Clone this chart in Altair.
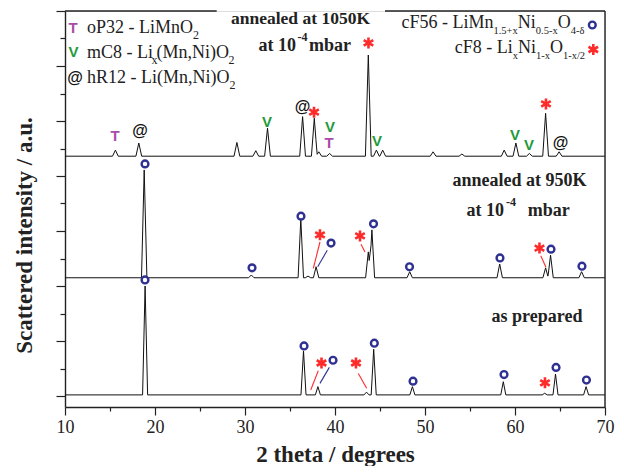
import altair as alt
import pandas as pd

# ---------------- data ----------------
# x: 2 theta (degrees); y: scattered intensity in arbitrary units (stacked traces)
BASE = {"prep": 0.02, "k950": 2.15, "k1050": 4.36}
HALF_W = {"prep": 0.28, "k950": 0.30, "k1050": 0.32}

prep_pos = [18.9, 36.5, 38.1, 43.5, 44.3, 48.6, 58.7, 63.3, 64.5, 67.9]
prep_top = [2.00, 0.82, 0.17, 0.07, 0.85, 0.17, 0.26, 0.05, 0.40, 0.17]

k950_pos = [18.8, 30.7, 36.2, 37.0, 37.9, 43.7, 44.1, 48.3, 58.3, 63.4, 63.95, 67.4]
k950_top = [4.11, 2.20, 3.22, 2.18, 2.35, 2.62, 3.02, 2.26, 2.40, 2.33, 2.56, 2.26]

k1050_pos = [15.6, 18.2, 29.1, 31.2, 32.5, 36.4, 37.7, 38.2, 39.4, 43.7, 44.6,
             45.3, 50.9, 54.1, 58.8, 60.1, 61.6, 63.4, 64.9]
k1050_top = [4.47, 4.60, 4.61, 4.46, 4.87, 5.08, 5.05, 4.44, 4.41, 6.20, 4.47,
             4.47, 4.44, 4.40, 4.47, 4.60, 4.41, 5.14, 4.44]

# phase markers (x, y) placed over peaks
circ_x = [18.89, 30.78, 36.22, 39.56, 44.28, 48.28, 58.33, 64.00, 67.44,
          18.89, 36.56, 39.78, 44.37, 48.67, 58.78, 64.56, 67.94, 68.59]
circ_y = [4.22, 2.33, 3.27, 2.78, 3.13, 2.35, 2.51, 2.67, 2.36,
          2.11, 0.91, 0.65, 0.96, 0.27, 0.39, 0.52, 0.29, 6.745]
star_x = [37.67, 43.72, 63.44, 38.33, 42.78, 62.72, 38.50, 42.33, 63.33, 68.70]
star_y = [5.16, 6.42, 5.31, 2.93, 2.91, 2.69, 0.60, 0.60, 0.24, 6.30]
glyph_txt = ["V", "V", "V", "V", "V", "V",
             "T", "T", "T",
             "@", "@", "@", "@"]
glyph_x = [32.44, 39.44, 44.67, 60.00, 61.56, 10.94,
           15.56, 39.33, 10.89,
           18.33, 36.39, 65.06, 11.11]
glyph_y = [4.98, 4.89, 4.64, 4.75, 4.56, 6.255,
           4.73, 4.60, 6.69,
           4.82, 5.25, 4.60, 5.78]
glyph_col = ["#1f9a3a"] * 6 + ["#a94ca9"] * 3 + ["#111111"] * 4
glyph_size = [15] * 9 + [16] * 4

# leader lines (x, y, x2, y2)
red_lines = [(37.59, 2.32, 38.33, 2.80), (42.89, 2.76, 43.33, 2.62), (62.86, 2.55, 63.44, 2.34),
             (37.30, 0.11, 38.14, 0.46), (42.59, 0.41, 43.52, 0.14)]
blue_lines = [(38.08, 2.35, 39.14, 2.65), (38.33, 0.23, 39.37, 0.52)]

# ---------------- layout helpers (page pixels -> data units) ----------------
def X(px):
    return round(10 + (px - 65) / 9, 3)


def Y(py):
    return round((396 - py) / 55, 3)


def build(key, pos, top):
    base, hw = BASE[key], HALF_W[key]
    xs = {10.0, 70.0}
    for p in pos:
        xs.update([round(p - hw, 4), p, round(p + hw, 4)])
    rows = []
    for x in sorted(xs):
        y = base
        for p, t in zip(pos, top):
            d = abs(x - p)
            if d < hw:
                y += (t - base) * (1 - d / hw)
        rows.append({"x": x, "y": y, "trace": key})
    return rows


traces = pd.DataFrame(build("prep", prep_pos, prep_top)
                      + build("k950", k950_pos, k950_top)
                      + build("k1050", k1050_pos, k1050_top))

xs = alt.Scale(domain=[10, 70], nice=False, zero=False)
ys = alt.Scale(domain=[-0.2, 7.0], nice=False, zero=False)
INK = "#222222"
SERIF = "Liberation Serif"
SANS = "Liberation Sans"

major_x = alt.Axis(values=list(range(10, 71, 10)), orient="bottom", grid=False,
                   tickSize=8, tickWidth=1.2, tickColor=INK, domainColor=INK, domainWidth=1.4,
                   labelFont=SERIF, labelFontSize=18, labelColor=INK, labelPadding=3,
                   labelFlush=False, labelOverlap=False,
                   title="2 theta / degrees", titleFont=SERIF, titleFontSize=23,
                   titleFontWeight="bold", titleColor=INK, titleY=54, titleBaseline="alphabetic")
major_y = alt.Axis(values=list(range(0, 8)), orient="left", grid=False, labels=False,
                   tickSize=9, tickWidth=1.2, tickColor=INK, domainColor=INK, domainWidth=1.4,
                   title="Scattered intensity / a.u.", titleFont=SERIF, titleFontSize=23,
                   titleFontWeight="bold", titleColor=INK, titleAngle=270, titleX=-34,
                   titleY=224, titleAlign="center", titleBaseline="alphabetic")
minor_x = alt.Axis(values=[15, 25, 35, 45, 55, 65], orient="bottom", grid=False, labels=False,
                   domain=False, tickSize=4, tickWidth=1.2, tickColor=INK, title=None)
minor_y = alt.Axis(values=[0.5, 1.5, 2.5, 3.5, 4.5, 5.5, 6.5], orient="left", grid=False,
                   labels=False, domain=False, tickSize=5, tickWidth=1.2, tickColor=INK, title=None)

lines = alt.Chart(traces).mark_line(color="#111111", strokeWidth=1).encode(
    x=alt.X("x:Q", scale=xs, axis=major_x),
    y=alt.Y("y:Q", scale=ys, axis=major_y),
    detail="trace:N",
)

# frame: right side (carries minor ticks) and top side with a gap for the title
right_frame = alt.Chart(pd.DataFrame({"x": [70], "y": [-0.2], "y2": [7.0]})).mark_rule(
    color=INK, strokeWidth=1.4).encode(
    x=alt.X("x:Q", scale=xs, axis=minor_x),
    y=alt.Y("y:Q", scale=ys, axis=minor_y), y2="y2:Q")
top_frame = alt.Chart(pd.DataFrame({"x": [10, X(385)], "x2": [X(216.7), 70], "y": [7.0, 7.0]})).mark_rule(
    color=INK, strokeWidth=1.4).encode(
    x=alt.X("x:Q", scale=xs, axis=None), x2="x2:Q",
    y=alt.Y("y:Q", scale=ys, axis=None))

red_df = pd.DataFrame(red_lines, columns=["x", "y", "x2", "y2"])
blue_df = pd.DataFrame(blue_lines, columns=["x", "y", "x2", "y2"])
red_rules = alt.Chart(red_df).mark_rule(color="#ff2b2b", strokeWidth=1.1).encode(
    x=alt.X("x:Q", scale=xs, axis=None), y=alt.Y("y:Q", scale=ys, axis=None), x2="x2:Q", y2="y2:Q")
blue_rules = alt.Chart(blue_df).mark_rule(color="#2e3192", strokeWidth=1.1).encode(
    x=alt.X("x:Q", scale=xs, axis=None), y=alt.Y("y:Q", scale=ys, axis=None), x2="x2:Q", y2="y2:Q")

circles = alt.Chart(pd.DataFrame({"x": circ_x, "y": circ_y})).mark_point(
    shape="circle", filled=False, size=46, strokeWidth=2.4, color="#2e3192", opacity=1).encode(
    x=alt.X("x:Q", scale=xs, axis=None), y=alt.Y("y:Q", scale=ys, axis=None))
STAR = "M0,-1L0,1M-0.87,-0.5L0.87,0.5M-0.87,0.5L0.87,-0.5"
stars = alt.Chart(pd.DataFrame({"x": star_x, "y": star_y})).mark_point(
    shape=STAR, filled=False, size=121, strokeWidth=2.6, color="#ff2b2b", opacity=1).encode(
    x=alt.X("x:Q", scale=xs, axis=None), y=alt.Y("y:Q", scale=ys, axis=None))

glyphs = alt.Chart(pd.DataFrame({"x": glyph_x, "y": glyph_y, "t": glyph_txt,
                                 "c": glyph_col, "s": glyph_size})).mark_text(
    font=SANS, fontWeight="bold", align="center", baseline="middle").encode(
    x=alt.X("x:Q", scale=xs, axis=None), y=alt.Y("y:Q", scale=ys, axis=None),
    text="t:N", color=alt.Color("c:N", scale=None), size=alt.Size("s:Q", scale=None))


def text_layer(rows, weight, align):
    df = pd.DataFrame(rows, columns=["t", "px", "py", "s"])
    df["x"] = df["px"].map(X)
    df["y"] = df["py"].map(Y)
    return alt.Chart(df).mark_text(font=SERIF, fontWeight=weight, align=align,
                                   baseline="alphabetic", color=INK).encode(
        x=alt.X("x:Q", scale=xs, axis=None), y=alt.Y("y:Q", scale=ys, axis=None),
        text="t:N", size=alt.Size("s:Q", scale=None))


bold_center = text_layer([("annealed at 1050K", 300.5, 24.5, 17.5),
                          ("annealed at 950K", 519.5, 186, 18),
                          ("as prepared", 537, 321.7, 18)], "bold", "center")
bold_right = text_layer([("at 10", 296, 51, 18), ("at 10", 504, 216, 18)], "bold", "right")
bold_left = text_layer([("-4", 297.5, 41, 12), ("mbar", 309, 51, 18),
                        ("-4", 506, 206, 12), ("mbar", 527.7, 216, 18)], "bold", "left")
legend_text = text_layer([
    ("oP32 - LiMnO", 87, 33, 18), ("2", 193, 39, 12),
    ("mC8 - Li", 87, 58, 18), ("x", 151.5, 64, 12), ("(Mn,Ni)O", 156.5, 58, 18), ("2", 228.5, 64, 12),
    ("hR12 - Li(Mn,Ni)O", 87, 83, 18), ("2", 229.5, 89, 12),
    ("cF56 - LiMn", 401.5, 28, 18), ("1.5+x", 493.5, 34, 10.5), ("Ni", 517.8, 28, 18),
    ("0.5-x", 535.8, 34, 10.5), ("O", 557.7, 28, 18), ("4-δ", 570.7, 34, 10.5),
    ("cF8 - Li", 454.7, 53, 18), ("x", 512.7, 59, 10.5), ("Ni", 517.95, 53, 18),
    ("1-x", 535.95, 59, 10.5), ("O", 549.95, 53, 18), ("1-x/2", 562.95, 59, 10.5),
], "normal", "left")

chart = alt.layer(
    lines, right_frame, top_frame, red_rules, blue_rules, circles, stars, glyphs,
    bold_center, bold_right, bold_left, legend_text,
).resolve_axis(x="independent", y="independent").properties(
    width=540, height=396, autosize="none",
    padding={"left": 57, "top": 3, "right": 11, "bottom": 59},
).configure_view(stroke=None).configure(background="white")

chart.save("out.html", embed_options={"renderer": "svg", "actions": False})
